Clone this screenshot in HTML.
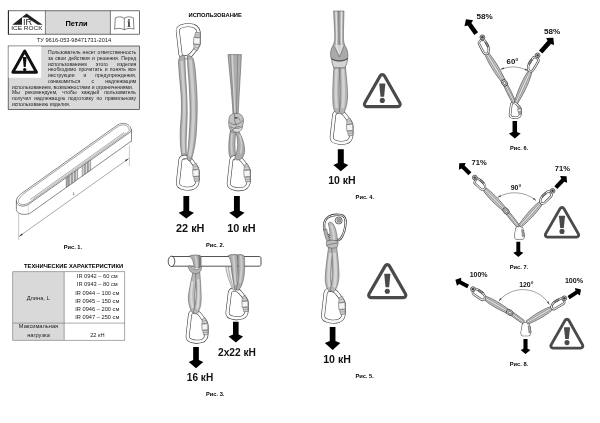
<!DOCTYPE html>
<html lang="ru"><head><meta charset="utf-8"><title>Петли</title>
<style>
html,body{margin:0;padding:0;background:#fff}
body{width:600px;height:423px;position:relative;overflow:hidden;font-family:"Liberation Sans", sans-serif}
svg{position:absolute;left:0;top:0;will-change:transform}
.j,.l{will-change:transform}
svg text{font-family:"Liberation Sans", sans-serif}
.j,.l{position:absolute;font-size:5.05px;line-height:6px;color:#222;white-space:nowrap}
.j{text-align:justify;text-align-last:justify}
</style></head><body>
<svg width="600" height="423" viewBox="0 0 600 423">
<rect x="45.5" y="10.8" width="65" height="23.4" fill="#d9d9d9"/>
<rect x="8.3" y="10.8" width="131.2" height="23.4" fill="none" stroke="#333" stroke-width="0.7"/>
<path d="M45.4 10.8V34.2M110.4 10.8V34.2" stroke="#333" stroke-width="0.6" fill="none"/>
<path d="M8.4 10.5V34.5" stroke="#222" stroke-width="1"/>
<text x="76.6" y="26.4" font-size="7.4" font-weight="bold" text-anchor="middle" fill="#000" >Петли</text>
<path d="M12.3 24.8 L26.6 13.6 L42.6 24.8 L37.8 24.8 L29.4 19.2 L27.6 17.6 L22 17.6 L22 24.8 Z" fill="#222"/>
<text x="22.9" y="24.9" font-size="9.6" font-weight="normal" text-anchor="start" fill="#222" textLength="9.2" lengthAdjust="spacingAndGlyphs">IR</text>
<text x="11.2" y="30" font-size="5.8" font-weight="normal" text-anchor="start" fill="#222" textLength="31.4" lengthAdjust="spacingAndGlyphs">ICE ROCK</text>
<g fill="none" stroke="#333" stroke-width="0.6"><path d="M124.3 18.2 C121.5 16.3 118 16.6 115.3 17.8 L114.6 29.2 C117.6 28 121 28 124.3 29.8 C127.6 28 131 28 134 29.2 L133.3 17.8 C130.6 16.6 127.1 16.3 124.3 18.2 Z"/><path d="M124.3 18.2V29.8"/></g>
<rect x="128.2" y="21.6" width="1.5" height="5" fill="#222"/><rect x="128.2" y="19.2" width="1.5" height="1.5" fill="#222"/>
<path d="M127.4 21.6h2.3M127.4 26.6h3.1" stroke="#222" stroke-width="0.5"/>
<text x="74" y="42.0" font-size="5.7" font-weight="normal" text-anchor="middle" fill="#222" >ТУ 9616-053-98471731-2014</text>
<rect x="8.2" y="46" width="131.2" height="63.4" fill="#d9d9d9" stroke="#333" stroke-width="0.7"/>
<rect x="8.6" y="46.4" width="32.6" height="31.4" fill="#fff"/>
<path d="M24.7 51 L36.5 72.3 L12.8 72.3 Z" fill="none" stroke="#111" stroke-width="2.9" stroke-linejoin="round"/>
<path d="M22.8 57 h3.8 l-0.9 10 h-2 Z" fill="#111"/><circle cx="24.7" cy="69.6" r="1.7" fill="#111"/>
<path d="M21.6 193.4 L116.5 125.7 C120 123.1 124.5 122.4 127.8 124.6 C131.5 127 132.2 131.5 129.8 132.4 L28.2 204.6 C24 207 18.5 206.5 16.8 203 C15.4 199.5 18 196 21.6 193.4 Z" fill="#fff" stroke="#484848" stroke-width="0.65"/>
<path d="M23.6 193.7 L117 127.1 C120.5 124.8 124 124.2 126.6 125.8 C129.3 127.8 130 131 128.4 132.0 L28.6 203.0 C24.5 205.4 20 205 18.6 202.4 C17.6 199.8 20 197.4 23.6 193.7 Z" fill="none" stroke="#484848" stroke-width="0.5"/>
<path d="M30 199.6 L124 132.6" stroke="#484848" stroke-width="0.45" fill="none"/>
<path d="M33 198.7 L126 132.4" stroke="#888" stroke-width="0.4" fill="none"/>
<path d="M16.4 200.5 V209.5 C17 213.5 22 215.6 29.6 213.6 L130.6 141.6 C131.4 143 131.5 141 131.5 140 V129.5" fill="none" stroke="#484848" stroke-width="0.65"/>
<path d="M28.4 204.9 V214.5" stroke="#999" stroke-width="0.35"/>
<path d="M67 176.9 L92 159.1 V169.1 L67 186.9 Z" fill="none" stroke="none"/>
<path d="M66.2 177.5 L68.4 175.9 V185.9 L66.2 187.5 Z" fill="#a8a8a8" stroke="#555" stroke-width="0.5"/>
<path d="M69.4 175.2 L71.60000000000001 173.7 V183.7 L69.4 185.2 Z" fill="#d6d6d6" stroke="#555" stroke-width="0.5"/>
<path d="M72.4 173.1 L74.60000000000001 171.5 V181.5 L72.4 183.1 Z" fill="#d6d6d6" stroke="#555" stroke-width="0.5"/>
<path d="M75.4 170.9 L77.60000000000001 169.4 V179.4 L75.4 180.9 Z" fill="#d6d6d6" stroke="#555" stroke-width="0.5"/>
<path d="M82.2 166.1 L84.4 164.5 V174.5 L82.2 176.1 Z" fill="#d6d6d6" stroke="#555" stroke-width="0.5"/>
<path d="M85.3 163.9 L87.5 162.3 V172.3 L85.3 173.9 Z" fill="#d6d6d6" stroke="#555" stroke-width="0.5"/>
<path d="M88.4 161.7 L90.60000000000001 160.1 V170.1 L88.4 171.7 Z" fill="#d6d6d6" stroke="#555" stroke-width="0.5"/>
<path d="M18.6 213 V240 M129.4 145.6 V166" stroke="#888" stroke-width="0.45" fill="none"/>
<path d="M19.1 236.4 L128.6 158.6" stroke="#555" stroke-width="0.5" fill="none"/>
<path d="M19.1 236.4 l3.6 -1.5 l-1 -1.5 Z M128.6 158.6 l-3.6 1.5 l1 1.5 Z" fill="#333"/>
<text x="73" y="195.4" font-size="4.4" font-weight="normal" text-anchor="start" fill="#444" font-style="italic">L</text>
<text x="72.9" y="248.6" font-size="5.7" font-weight="bold" text-anchor="middle" fill="#000" >Рис. 1.</text>
<text x="73.6" y="267.9" font-size="5.8" font-weight="bold" text-anchor="middle" fill="#000" >ТЕХНИЧЕСКИЕ ХАРАКТЕРИСТИКИ</text>
<rect x="12.8" y="271.8" width="51.4" height="68.4" fill="#d9d9d9"/>
<rect x="12.8" y="271.8" width="112" height="68.4" fill="none" stroke="#555" stroke-width="0.5"/>
<path d="M64.2 271.8V340.2M12.8 323.1H124.8" stroke="#555" stroke-width="0.5"/>
<text x="97.3" y="277.9" font-size="5.7" font-weight="normal" text-anchor="middle" fill="#222" >IR 0942 – 60 см</text>
<text x="97.3" y="286.29999999999995" font-size="5.7" font-weight="normal" text-anchor="middle" fill="#222" >IR 0943 – 80 см</text>
<text x="97.3" y="294.5" font-size="5.7" font-weight="normal" text-anchor="middle" fill="#222" >IR 0944 – 100 см</text>
<text x="97.3" y="302.7" font-size="5.7" font-weight="normal" text-anchor="middle" fill="#222" >IR 0945 – 150 см</text>
<text x="97.3" y="311.0" font-size="5.7" font-weight="normal" text-anchor="middle" fill="#222" >IR 0946 – 200 см</text>
<text x="97.3" y="319.4" font-size="5.7" font-weight="normal" text-anchor="middle" fill="#222" >IR 0947 – 250 см</text>
<text x="38.2" y="299.6" font-size="5.7" font-weight="normal" text-anchor="middle" fill="#222" >Длина, L</text>
<text x="38.5" y="328.1" font-size="5.7" font-weight="normal" text-anchor="middle" fill="#222" >Максимальная</text>
<text x="38.5" y="336.9" font-size="5.7" font-weight="normal" text-anchor="middle" fill="#222" >нагрузка</text>
<text x="97.4" y="336.9" font-size="5.7" font-weight="normal" text-anchor="middle" fill="#222" >22 кН</text>
<text x="215.2" y="16.6" font-size="5.8" font-weight="bold" text-anchor="middle" fill="#000" >ИСПОЛЬЗОВАНИЕ</text>
<path d="M180.45 54.16 C181.08 56.78 183.21 57.39 185.54 57.29 C188.30 57.09 190.42 55.77 191.91 53.76 L197.00 47.20 C198.28 45.69 198.81 44.68 198.81 42.66 L198.81 34.59 C198.81 30.15 197.00 27.13 193.61 25.92 C191.06 25.11 187.88 25.01 185.12 25.41 C181.08 26.02 177.37 26.93 177.79 31.16 Z" fill="none" stroke="#3e3e3e" stroke-width="3.9" stroke-linejoin="round"/>
<path d="M180.45 54.16 C181.08 56.78 183.21 57.39 185.54 57.29 C188.30 57.09 190.42 55.77 191.91 53.76 L197.00 47.20 C198.28 45.69 198.81 44.68 198.81 42.66 L198.81 34.59 C198.81 30.15 197.00 27.13 193.61 25.92 C191.06 25.11 187.88 25.01 185.12 25.41 C181.08 26.02 177.37 26.93 177.79 31.16 Z" fill="none" stroke="#fbfbfb" stroke-width="2.75" stroke-linejoin="round"/>
<path d="M194.03 49.12 L197.22 50.73 L199.76 44.88 L193.71 44.07 Z" fill="#d2d2d2" stroke="#505050" stroke-width="0.5" stroke-linejoin="round"/>
<path d="M193.50 43.87 L199.98 44.48 L200.29 37.82 L193.82 37.42 Z" fill="#f4f4f4" stroke="#505050" stroke-width="0.55" stroke-linejoin="round"/>
<path d="M194.56 37.11 L200.29 37.52 L200.08 32.78 L195.52 32.37 Z" fill="#d2d2d2" stroke="#505050" stroke-width="0.5" stroke-linejoin="round"/>
<path d="M194.67 47.10 L198.70 48.11 M195.20 34.79 L200.19 35.20" stroke="#666" stroke-width="0.4" fill="none"/>
<path d="M182 55.2 C179.6 56.5 178.3 59 178.5 63 C178.9 72 180.3 84 181.2 96 C181.8 106 181.4 116 180.6 124 C180 132 180.1 140 180.6 146 C181 152 181.8 157 183.6 159.6 L186.6 158.5 C186.2 152 186 146 186.2 140 C186.5 132 187 124 187.2 114 C187.3 104 186.8 94 186.1 84 C185.5 75 185 66 185 58 C184.6 55.6 183.5 54.8 182 55.2 Z" fill="#acacac" stroke="#505050" stroke-width="0.55" stroke-linejoin="round"/>
<path d="M181.9 62 C182.4 74 183.6 86 184.3 98 C184.7 108 184.4 118 183.7 126 C183.2 134 183.2 144 183.8 152" fill="none" stroke="#cecece" stroke-width="2.6" stroke-linecap="round"/>
<path d="M180.40 159.90 C181.00 157.30 183.00 156.70 185.20 156.80 C187.80 157.00 189.80 158.30 191.20 160.30 L196.00 166.80 C197.20 168.30 197.70 169.30 197.70 171.30 L197.70 179.30 C197.70 183.70 196.00 186.70 192.80 187.90 C190.40 188.70 187.40 188.80 184.80 188.40 C181.00 187.80 177.50 186.90 177.90 182.70 Z" fill="none" stroke="#3e3e3e" stroke-width="3.9" stroke-linejoin="round"/>
<path d="M180.40 159.90 C181.00 157.30 183.00 156.70 185.20 156.80 C187.80 157.00 189.80 158.30 191.20 160.30 L196.00 166.80 C197.20 168.30 197.70 169.30 197.70 171.30 L197.70 179.30 C197.70 183.70 196.00 186.70 192.80 187.90 C190.40 188.70 187.40 188.80 184.80 188.40 C181.00 187.80 177.50 186.90 177.90 182.70 Z" fill="none" stroke="#fbfbfb" stroke-width="2.75" stroke-linejoin="round"/>
<path d="M193.20 164.90 L196.20 163.30 L198.60 169.10 L192.90 169.90 Z" fill="#d2d2d2" stroke="#505050" stroke-width="0.5" stroke-linejoin="round"/>
<path d="M192.70 170.10 L198.80 169.50 L199.10 176.10 L193.00 176.50 Z" fill="#f4f4f4" stroke="#505050" stroke-width="0.55" stroke-linejoin="round"/>
<path d="M193.70 176.80 L199.10 176.40 L198.90 181.10 L194.60 181.50 Z" fill="#d2d2d2" stroke="#505050" stroke-width="0.5" stroke-linejoin="round"/>
<path d="M193.80 166.90 L197.60 165.90 M194.30 179.10 L199.00 178.70" stroke="#666" stroke-width="0.4" fill="none"/>
<path d="M187.4 56 C187.3 62 188 70 188.7 78 C189.4 88 190 100 190.1 110 C190.1 120 189.7 130 188.8 140 C188.4 148 187.7 154 186.8 158 C187.4 160.4 189.4 161.4 191 160.2 C193.4 154 195.4 144 196.2 134 C196.9 124 197.4 112 197.2 102 C196.9 90 196 78 195 68 C194.5 64 193.8 61 193.2 59 C192.2 56.6 189.6 55 187.4 56 Z" fill="#acacac" stroke="#505050" stroke-width="0.55" stroke-linejoin="round"/>
<path d="M190.6 61 C191.4 72 192.6 86 193.2 98 C193.7 110 193.4 124 192.4 136 C191.8 144 190.8 150 189.8 155" fill="none" stroke="#cecece" stroke-width="3.0" stroke-linecap="round"/>
<path d="M183.40 196 H189.20 V210.66 L193.95 212.7 L186.3 218.5 L178.65 212.7 L183.40 210.66 Z" fill="#000"/>
<text x="176.0" y="231.7" font-size="10.9" font-weight="bold" text-anchor="start" fill="#111" >22 кН</text>
<path d="M228 54.6 H241.4 C240.6 72 239 95 238.2 114 L233 114 C232 95 229.6 72 228 54.6 Z" fill="#aeaeae" stroke="#505050" stroke-width="0.55" stroke-linejoin="round"/>
<path d="M232.2 55.5 C232.8 75 234.2 95 234.8 113" fill="none" stroke="#d2d2d2" stroke-width="1.6" stroke-linecap="round"/>
<path d="M237.6 55.5 C237.4 75 236.8 95 236.4 113" fill="none" stroke="#707070" stroke-width="0.6" stroke-linecap="round"/>
<path d="M230.4 55.5 C231.4 75 233 95 233.8 113" fill="none" stroke="#707070" stroke-width="0.5" stroke-linecap="round"/>
<path d="M231 128 C229 136 228.4 146 229 153 C229.4 157.5 231.6 160 234.4 160 L236 157 C234.6 150 234.6 140 236 130 Z" fill="#acacac" stroke="#505050" stroke-width="0.55" stroke-linejoin="round"/>
<path d="M231.27 160.24 C231.88 157.62 233.92 157.01 236.15 157.11 C238.80 157.31 240.84 158.63 242.26 160.64 L247.14 167.20 C248.36 168.71 248.87 169.72 248.87 171.74 L248.87 179.81 C248.87 184.25 247.14 187.27 243.89 188.48 C241.45 189.29 238.39 189.39 235.75 188.99 C231.88 188.38 228.32 187.47 228.73 183.24 Z" fill="none" stroke="#3e3e3e" stroke-width="3.9" stroke-linejoin="round"/>
<path d="M231.27 160.24 C231.88 157.62 233.92 157.01 236.15 157.11 C238.80 157.31 240.84 158.63 242.26 160.64 L247.14 167.20 C248.36 168.71 248.87 169.72 248.87 171.74 L248.87 179.81 C248.87 184.25 247.14 187.27 243.89 188.48 C241.45 189.29 238.39 189.39 235.75 188.99 C231.88 188.38 228.32 187.47 228.73 183.24 Z" fill="none" stroke="#fbfbfb" stroke-width="2.75" stroke-linejoin="round"/>
<path d="M244.29 165.28 L247.35 163.67 L249.79 169.52 L243.99 170.33 Z" fill="#d2d2d2" stroke="#505050" stroke-width="0.5" stroke-linejoin="round"/>
<path d="M243.79 170.53 L249.99 169.92 L250.30 176.58 L244.09 176.98 Z" fill="#f4f4f4" stroke="#505050" stroke-width="0.55" stroke-linejoin="round"/>
<path d="M244.80 177.29 L250.30 176.88 L250.09 181.62 L245.72 182.03 Z" fill="#d2d2d2" stroke="#505050" stroke-width="0.5" stroke-linejoin="round"/>
<path d="M244.91 167.30 L248.77 166.29 M245.41 179.61 L250.20 179.20" stroke="#666" stroke-width="0.4" fill="none"/>
<path d="M236.5 128 C241 134 244.4 142 244.6 150 C244.7 155.5 242 159.8 237.6 160 C235.6 160 234.6 158.6 235 156.6 C237.4 152 238 146 237.4 140 C237 135 235.6 131 234 128.6 Z" fill="#acacac" stroke="#505050" stroke-width="0.55" stroke-linejoin="round"/>
<path d="M232 134 C231.2 140 231.2 148 232 154" fill="none" stroke="#cdcdcd" stroke-width="1.6" stroke-linecap="round"/>
<path d="M239.6 135 C241.6 140 242 147 240.6 153" fill="none" stroke="#cdcdcd" stroke-width="1.6" stroke-linecap="round"/>
<path d="M229.8 116 C232 112.8 238.6 112.4 241.6 115.2 C244 118 244 122.6 242.2 126 C240.2 130 235.4 133.4 231.8 131.6 C228.4 129.6 227.8 120 229.8 116 Z" fill="#c2c2c2" stroke="#505050" stroke-width="0.55" stroke-linejoin="round"/>
<path d="M230.6 126.4 C232 130 235 132.8 238.2 132.2 C240.8 131.6 242.4 129 242.8 126.2 C239.6 129 234 129.6 230.6 126.4 Z" fill="#dcdcdc" stroke="#505050" stroke-width="0.5"/>
<path d="M234.8 114 C234.2 118 234.6 122 236.4 125.6 M229.2 122 C233 126 238.6 125 243.4 120 M235.4 117.6 C237.4 117 239.8 118.4 240.2 120.8 M231.6 131 C233.6 128 236.6 126.6 239.6 126.4" fill="none" stroke="#505050" stroke-width="0.6"/>
<path d="M234.6 117.4 C235.6 116.6 237 116.8 237.6 117.8 C236.8 119.2 235.4 119.4 234.6 117.4 Z" fill="#555"/>
<path d="M233.95 196 H239.85 V210.68 L244.55 212.7 L236.9 218.5 L229.25 212.7 L233.95 210.68 Z" fill="#000"/>
<text x="227.2" y="231.7" font-size="10.9" font-weight="bold" text-anchor="start" fill="#111" >10 кН</text>
<text x="215.1" y="246.9" font-size="5.7" font-weight="bold" text-anchor="middle" fill="#000" >Рис. 2.</text>
<path d="M171.5 256.5 H259.2 C260.4 256.5 261 257.2 261 258.2 V264.4 C261 265.4 260.4 266.2 259.2 266.2 H171.5 Z" fill="#fff" stroke="#2a2a2a" stroke-width="0.8"/>
<ellipse cx="171.5" cy="261.35" rx="3.3" ry="5.2" fill="#fff" stroke="#2a2a2a" stroke-width="0.8"/>
<path d="M190.02 314.55 C190.60 312.09 192.51 311.52 194.61 311.62 C197.10 311.81 199.01 313.04 200.35 314.93 L204.94 321.07 C206.09 322.49 206.57 323.43 206.57 325.32 L206.57 332.89 C206.57 337.04 204.94 339.88 201.88 341.01 C199.59 341.77 196.72 341.87 194.23 341.49 C190.60 340.92 187.25 340.07 187.63 336.10 Z" fill="none" stroke="#3e3e3e" stroke-width="3.9" stroke-linejoin="round"/>
<path d="M190.02 314.55 C190.60 312.09 192.51 311.52 194.61 311.62 C197.10 311.81 199.01 313.04 200.35 314.93 L204.94 321.07 C206.09 322.49 206.57 323.43 206.57 325.32 L206.57 332.89 C206.57 337.04 204.94 339.88 201.88 341.01 C199.59 341.77 196.72 341.87 194.23 341.49 C190.60 340.92 187.25 340.07 187.63 336.10 Z" fill="none" stroke="#fbfbfb" stroke-width="2.75" stroke-linejoin="round"/>
<path d="M202.26 319.27 L205.13 317.76 L207.43 323.24 L201.98 324.00 Z" fill="#d2d2d2" stroke="#505050" stroke-width="0.5" stroke-linejoin="round"/>
<path d="M201.79 324.19 L207.62 323.62 L207.90 329.86 L202.07 330.24 Z" fill="#f4f4f4" stroke="#505050" stroke-width="0.55" stroke-linejoin="round"/>
<path d="M202.74 330.52 L207.90 330.14 L207.71 334.59 L203.60 334.97 Z" fill="#d2d2d2" stroke="#505050" stroke-width="0.5" stroke-linejoin="round"/>
<path d="M202.84 321.16 L206.47 320.22 M203.31 332.70 L207.81 332.32" stroke="#666" stroke-width="0.4" fill="none"/>
<path d="M198.4 255.4 C199.6 255 200.6 255.6 201 256.6 C201.2 260 201.2 264 201 267 L198.8 267 Z" fill="#8a8a8a" stroke="#505050" stroke-width="0.5" stroke-linejoin="round"/>
<path d="M189.4 256 C191 255 196.8 254.6 198.8 255.4 C199.2 259 199.4 263 199.4 267.4 L194 268 C194 263 192.8 258.6 189.4 256 Z" fill="#aeaeae" stroke="#505050" stroke-width="0.55" stroke-linejoin="round"/>
<path d="M195.4 256.4 C196.6 260 196.8 264 196.8 267" fill="none" stroke="#cdcdcd" stroke-width="1.8" stroke-linecap="round"/>
<path d="M193 272 C191.4 279 189.4 288 188.4 296 C188 303 190 309.6 193 313.4 L196 311 C194.6 305 194.2 298 195 291 C195.6 285 196.8 279 197.6 273 Z" fill="#b8b8b8" stroke="#505050" stroke-width="0.55" stroke-linejoin="round"/>
<path d="M195.6 272.6 C196 280 196.4 289 196 297 C195.6 303 194.6 308 193.4 311.6 C194.4 314 196.6 314.4 198 312.6 C200.4 308.6 201.4 303 201.2 297 C201 289 200.4 280 199.8 272.4 Z" fill="#b8b8b8" stroke="#505050" stroke-width="0.55" stroke-linejoin="round"/>
<path d="M192.4 282 C191 290 190.8 300 192.6 307" fill="none" stroke="#d8d8d8" stroke-width="2.2" stroke-linecap="round"/>
<path d="M198.2 280 C198.8 289 198.8 300 197.4 308" fill="none" stroke="#d8d8d8" stroke-width="2.2" stroke-linecap="round"/>
<path d="M188 266.2 C189 265.6 190.6 265.8 191.4 266.6 C192.4 268.6 194.4 269.8 196.6 269.6 C198.6 269.4 199.8 268.2 200.2 266.6 C200.8 266 201.6 266.4 201.6 267.4 C201.4 270.6 199.4 273.4 196.4 273.8 C192.6 274.2 189 271 188 266.2 Z" fill="#b4b4b4" stroke="#505050" stroke-width="0.55" stroke-linejoin="round"/>
<path d="M193.15 346.9 H198.85 V360.09 L203.30 362 L196 368.3 L188.70 362 L193.15 360.09 Z" fill="#000"/>
<text x="186.8" y="381.0" font-size="10.1" font-weight="bold" text-anchor="start" fill="#111" >16 кН</text>
<path d="M229.89 292.34 C230.48 290.00 232.43 289.46 234.57 289.55 C237.10 289.73 239.05 290.90 240.41 292.70 L245.08 298.54 C246.25 299.89 246.74 300.79 246.74 302.59 L246.74 309.78 C246.74 313.74 245.08 316.43 241.97 317.51 C239.63 318.23 236.71 318.32 234.18 317.96 C230.48 317.42 227.07 316.61 227.46 312.84 Z" fill="none" stroke="#3e3e3e" stroke-width="3.9" stroke-linejoin="round"/>
<path d="M229.89 292.34 C230.48 290.00 232.43 289.46 234.57 289.55 C237.10 289.73 239.05 290.90 240.41 292.70 L245.08 298.54 C246.25 299.89 246.74 300.79 246.74 302.59 L246.74 309.78 C246.74 313.74 245.08 316.43 241.97 317.51 C239.63 318.23 236.71 318.32 234.18 317.96 C230.48 317.42 227.07 316.61 227.46 312.84 Z" fill="none" stroke="#fbfbfb" stroke-width="2.75" stroke-linejoin="round"/>
<path d="M242.36 296.83 L245.28 295.39 L247.62 300.61 L242.07 301.33 Z" fill="#d2d2d2" stroke="#505050" stroke-width="0.5" stroke-linejoin="round"/>
<path d="M241.87 301.51 L247.81 300.97 L248.10 306.90 L242.16 307.26 Z" fill="#f4f4f4" stroke="#505050" stroke-width="0.55" stroke-linejoin="round"/>
<path d="M242.84 307.53 L248.10 307.17 L247.91 311.40 L243.72 311.76 Z" fill="#d2d2d2" stroke="#505050" stroke-width="0.5" stroke-linejoin="round"/>
<path d="M242.94 298.63 L246.64 297.73 M243.43 309.60 L248.01 309.24" stroke="#666" stroke-width="0.4" fill="none"/>
<path d="M225.8 266.6 L231.2 266.6 C231.8 274 233.6 282 236.2 289 L233.4 290.4 C229.6 283 226.6 274 225.8 266.6 Z" fill="#ededed" stroke="#505050" stroke-width="0.5" stroke-linejoin="round"/>
<path d="M228.4 266.8 C229 274 231 283 234.6 289.6" fill="none" stroke="#505050" stroke-width="0.45"/>
<path d="M228.2 255.6 C230 254.4 234.6 254.2 237.4 254.8 C237.8 262 237.6 270 237.2 278 C237 283 237.4 287 238 289.6 L235 290.4 C233.6 284 232.4 276 231.8 268 C231.4 262 229.8 258 228.2 255.6 Z" fill="#aeaeae" stroke="#505050" stroke-width="0.55" stroke-linejoin="round"/>
<path d="M237.6 254.8 C240 254.2 243 254.6 244.2 256 C244.8 262 244.8 270 244 276 C243.2 282 241.4 286.6 239 289.8 C238 290.6 236.6 290 236.4 288.6 C237.8 284 238.6 278 238.6 272 C238.6 266 238.2 260 237.6 254.8 Z" fill="#aeaeae" stroke="#505050" stroke-width="0.55" stroke-linejoin="round"/>
<path d="M233.4 256.4 C234.4 264 234.4 274 235.6 284" fill="none" stroke="#cdcdcd" stroke-width="2.0" stroke-linecap="round"/>
<path d="M241 256.4 C241.8 263 241.8 272 240 282" fill="none" stroke="#cdcdcd" stroke-width="2.0" stroke-linecap="round"/>
<path d="M233.00 321.7 H238.60 V334.49 L243.05 336.4 L235.8 342.6 L228.55 336.4 L233.00 334.49 Z" fill="#000"/>
<text x="218.0" y="355.9" font-size="10.2" font-weight="bold" text-anchor="start" fill="#111" >2x22 кН</text>
<text x="215.2" y="395.5" font-size="5.7" font-weight="bold" text-anchor="middle" fill="#000" >Рис. 3.</text>
<path d="M334.20 114.71 C334.80 112.16 336.80 111.57 339.00 111.67 C341.60 111.87 343.60 113.14 345.00 115.10 L349.80 121.47 C351.00 122.94 351.50 123.92 351.50 125.88 L351.50 133.72 C351.50 138.03 349.80 140.97 346.60 142.14 C344.20 142.93 341.20 143.02 338.60 142.63 C334.80 142.04 331.30 141.16 331.70 137.05 Z" fill="none" stroke="#3e3e3e" stroke-width="3.9" stroke-linejoin="round"/>
<path d="M334.20 114.71 C334.80 112.16 336.80 111.57 339.00 111.67 C341.60 111.87 343.60 113.14 345.00 115.10 L349.80 121.47 C351.00 122.94 351.50 123.92 351.50 125.88 L351.50 133.72 C351.50 138.03 349.80 140.97 346.60 142.14 C344.20 142.93 341.20 143.02 338.60 142.63 C334.80 142.04 331.30 141.16 331.70 137.05 Z" fill="none" stroke="#fbfbfb" stroke-width="2.75" stroke-linejoin="round"/>
<path d="M347.00 119.61 L350.00 118.04 L352.40 123.72 L346.70 124.51 Z" fill="#d2d2d2" stroke="#505050" stroke-width="0.5" stroke-linejoin="round"/>
<path d="M346.50 124.70 L352.60 124.11 L352.90 130.58 L346.80 130.97 Z" fill="#f4f4f4" stroke="#505050" stroke-width="0.55" stroke-linejoin="round"/>
<path d="M347.50 131.27 L352.90 130.87 L352.70 135.48 L348.40 135.87 Z" fill="#d2d2d2" stroke="#505050" stroke-width="0.5" stroke-linejoin="round"/>
<path d="M347.60 121.57 L351.40 120.59 M348.10 133.52 L352.80 133.13" stroke="#666" stroke-width="0.4" fill="none"/>
<path d="M333.6 11 H344 C343.8 20 343.4 30 343.4 38 C343.6 41 344 43 344.6 45 L333.2 45 C334 43 334.6 41 334.8 38 C334.6 30 334 20 333.6 11 Z" fill="#acacac" stroke="#505050" stroke-width="0.55" stroke-linejoin="round"/>
<path d="M336 12 C336.6 24 336.8 36 336.6 44.6" fill="none" stroke="#e2e2e2" stroke-width="1.5" stroke-linecap="round"/>
<path d="M341.6 12 C341.4 24 341.2 36 341.6 44.6" fill="none" stroke="#e2e2e2" stroke-width="1.5" stroke-linecap="round"/>
<path d="M338.8 11.4 C338.8 24 339 36 339.2 45" fill="none" stroke="#5a5a5a" stroke-width="0.6" stroke-linecap="round"/>
<path d="M334 65 C333 80 332.4 94 333 104 C333.4 109 334.8 112.4 337 113.6 L340.2 111 C339.4 104 339 94 339.2 84 C339.4 76 339.8 70 340 65 Z" fill="#b4b4b4" stroke="#505050" stroke-width="0.55" stroke-linejoin="round"/>
<path d="M340 65 C339.8 74 340 86 340.2 96 C340.3 102 340 108 339.4 111.6 C340.4 114.4 342.8 114.6 344 112.6 C346.4 108 347.8 101 347.6 94 C347.4 84 346 74 345.2 65 Z" fill="#b4b4b4" stroke="#505050" stroke-width="0.55" stroke-linejoin="round"/>
<path d="M336.6 70 C335.8 82 335.6 96 336.6 107" fill="none" stroke="#d2d2d2" stroke-width="2.6" stroke-linecap="round"/>
<path d="M342.8 70 C343.6 82 344.2 96 342.8 107" fill="none" stroke="#d2d2d2" stroke-width="2.8" stroke-linecap="round"/>
<path d="M333.2 44.6 L344.6 44.8 L339.5 57 Z" fill="#cfcfcf" stroke="none"/>
<path d="M336.6 45 L339 54" fill="none" stroke="#e6e6e6" stroke-width="1.2" stroke-linecap="round"/>
<path d="M342 45 L340 54" fill="none" stroke="#e6e6e6" stroke-width="1.0" stroke-linecap="round"/>
<path d="M333.4 44.8 C331.2 48 330.2 52 330.6 56 C330.8 57.6 331.2 58.6 331.8 59.2 C336 62 343.4 62 347.4 59 C347.9 57.6 348 55.6 347.8 53.6 C347.4 50 346.2 47 344.4 45 L339.5 56.8 Z" fill="#aaaaaa" stroke="#505050" stroke-width="0.55" stroke-linejoin="round"/>
<path d="M331.7 59 C335.4 62 343.6 62 347.5 58.8 C347.5 62 346.2 65.4 344.8 67.8 L334 67.8 C332.6 65.2 331.7 62 331.7 59 Z" fill="#d4d4d4" stroke="#505050" stroke-width="0.6" stroke-linejoin="round"/>
<path d="M331.2 58.4 C335.4 61.6 343.6 61.6 348 58.2" fill="none" stroke="#444" stroke-width="0.8"/>
<path d="M337.80 149.2 H343.80 V163.09 L348.25 165 L340.8 171.3 L333.35 165 L337.80 163.09 Z" fill="#000"/>
<text x="328.2" y="184.3" font-size="10.5" font-weight="bold" text-anchor="start" fill="#111" >10 кН</text>
<text x="364.8" y="199.4" font-size="5.7" font-weight="bold" text-anchor="middle" fill="#000" >Рис. 4.</text>
<path d="M380.21 75.86 A2.4 2.4 0 0 1 384.39 75.86 L399.88 103.06 A2.4 2.4 0 0 1 397.80 106.65 L366.80 106.65 A2.4 2.4 0 0 1 364.72 103.06 Z" fill="none" stroke="#4a4a4a" stroke-width="3.1" stroke-linejoin="round"/>
<path d="M379.8 83.4 H384.8 Q385.40000000000003 83.4 385.35 84.0 L384.1 96.7 H380.5 L379.25 84.0 Q379.2 83.4 379.8 83.4 Z" fill="#4a4a4a"/>
<circle cx="382.3" cy="100.4" r="2.55" fill="#4a4a4a"/>
<path d="M325.61 292.81 C326.24 290.21 328.35 289.60 330.66 289.70 C333.40 289.90 335.51 291.21 336.98 293.21 L342.03 299.73 C343.29 301.24 343.82 302.24 343.82 304.25 L343.82 312.27 C343.82 316.68 342.03 319.69 338.66 320.89 C336.14 321.70 332.98 321.80 330.24 321.40 C326.24 320.79 322.56 319.89 322.98 315.68 Z" fill="none" stroke="#3e3e3e" stroke-width="3.9" stroke-linejoin="round"/>
<path d="M325.61 292.81 C326.24 290.21 328.35 289.60 330.66 289.70 C333.40 289.90 335.51 291.21 336.98 293.21 L342.03 299.73 C343.29 301.24 343.82 302.24 343.82 304.25 L343.82 312.27 C343.82 316.68 342.03 319.69 338.66 320.89 C336.14 321.70 332.98 321.80 330.24 321.40 C326.24 320.79 322.56 319.89 322.98 315.68 Z" fill="none" stroke="#fbfbfb" stroke-width="2.75" stroke-linejoin="round"/>
<path d="M339.08 297.83 L342.24 296.22 L344.77 302.04 L338.77 302.84 Z" fill="#d2d2d2" stroke="#505050" stroke-width="0.5" stroke-linejoin="round"/>
<path d="M338.56 303.04 L344.98 302.44 L345.29 309.06 L338.87 309.46 Z" fill="#f4f4f4" stroke="#505050" stroke-width="0.55" stroke-linejoin="round"/>
<path d="M339.61 309.76 L345.29 309.36 L345.08 314.07 L340.56 314.48 Z" fill="#d2d2d2" stroke="#505050" stroke-width="0.5" stroke-linejoin="round"/>
<path d="M339.72 299.83 L343.72 298.83 M340.24 312.07 L345.19 311.67" stroke="#666" stroke-width="0.4" fill="none"/>
<path d="M324.6 230.4 C323.4 225 324.4 220 327.6 217.6 C331 215 337 214.4 341.4 215.2 C344.6 216 345.8 219 345.6 223 C345.2 229 343.4 235 340.6 238.8 C339.4 240.2 337.6 240.4 336.6 239.4 C333 238.4 327 236 324.6 230.4 Z" fill="#fff" stroke="#3a3a3a" stroke-width="2.3" stroke-linejoin="round"/>
<path d="M324.6 230.4 C323.4 225 324.4 220 327.6 217.6 C331 215 337 214.4 341.4 215.2 C344.6 216 345.8 219 345.6 223 C345.2 229 343.4 235 340.6 238.8 C339.4 240.2 337.6 240.4 336.6 239.4 C333 238.4 327 236 324.6 230.4 Z" fill="none" stroke="#f4f4f4" stroke-width="1.0" stroke-linejoin="round"/>
<circle cx="338.7" cy="220.5" r="3.5" fill="#e6e6e6" stroke="#333" stroke-width="0.7"/>
<circle cx="338.9" cy="220.4" r="1.9" fill="#c2c2c2" stroke="#444" stroke-width="0.5"/>
<path d="M337.2 218.4 L340.4 222.6 M340.4 218.6 L337.4 222.4" stroke="#555" stroke-width="0.4"/>
<path d="M328.2 223.2 C329.4 221.6 331.6 222 332.8 223.6 C335.4 227 337 233 337.4 240.4 L329.6 241 C330.4 235 329.8 228 328.2 223.2 Z" fill="#b8b8b8" stroke="#505050" stroke-width="0.55" stroke-linejoin="round"/>
<path d="M331.4 225.6 C333.2 229.6 334 235 334 240" fill="none" stroke="#d6d6d6" stroke-width="1.8" stroke-linecap="round"/>
<path d="M328.6 247 C327.4 256 325.6 268 325.2 278 C325 284 326.6 288.6 329.4 291.4 L332.4 289 C331 284 330.6 278 331 272 C331.4 262 332.6 254 333.6 247 Z" fill="#b6b6b6" stroke="#505050" stroke-width="0.55" stroke-linejoin="round"/>
<path d="M331.6 247 C332 256 332.6 266 332.4 274 C332.2 280 331.4 285 330.4 289.4 C331.4 292 333.6 292.4 335 290.6 C337.6 286.4 339 281 339 275 C339 266 337.6 255 336.6 247 Z" fill="#b6b6b6" stroke="#505050" stroke-width="0.55" stroke-linejoin="round"/>
<path d="M330.4 254 C328.8 264 328 277 329.2 286" fill="none" stroke="#d6d6d6" stroke-width="2.6" stroke-linecap="round"/>
<path d="M334.6 254 C335.6 264 336.2 276 334.6 286" fill="none" stroke="#d6d6d6" stroke-width="2.8" stroke-linecap="round"/>
<path d="M323.8 229.4 C324.2 234 325.4 238 327.2 241.6 L330 240.6 C328.4 237 327.2 233 326.8 229.2 Z" fill="#b0b0b0" stroke="#505050" stroke-width="0.5" stroke-linejoin="round"/>
<path d="M326.6 241.4 C329 239.8 335 239.8 337.8 241.2 C338.4 243 338 245.6 336.8 247.4 C333.8 248.6 329.4 248.4 327.2 246.8 C326.2 245.2 326 243 326.6 241.4 Z" fill="#bdbdbd" stroke="#505050" stroke-width="0.55" stroke-linejoin="round"/>
<path d="M326.8 245.4 C330 244.2 334.4 243.2 338 243" fill="none" stroke="#505050" stroke-width="0.55"/>
<path d="M329.75 327.1 H335.45 V340.89 L340.35 343 L332.6 349.9 L324.85 343 L329.75 340.89 Z" fill="#000"/>
<text x="323.2" y="362.9" font-size="10.6" font-weight="bold" text-anchor="start" fill="#111" >10 кН</text>
<text x="364.6" y="378" font-size="5.7" font-weight="bold" text-anchor="middle" fill="#000" >Рис. 5.</text>
<path d="M385.22 265.87 A2.4 2.4 0 0 1 389.38 265.88 L405.52 294.01 A2.4 2.4 0 0 1 403.44 297.60 L371.07 297.60 A2.4 2.4 0 0 1 369.00 294.00 Z" fill="none" stroke="#4a4a4a" stroke-width="3.2" stroke-linejoin="round"/>
<path d="M384.8 273.7 H389.8 Q390.40000000000003 273.7 390.35 274.3 L389.1 287.3 H385.5 L384.25 274.3 Q384.2 273.7 384.8 273.7 Z" fill="#4a4a4a"/>
<circle cx="387.3" cy="291.2" r="2.55" fill="#4a4a4a"/>
<path d="M500.6 69.4 A32.05 32.05 0 0 1 528 70.8" fill="none" stroke="#444" stroke-width="0.5"/>
<path d="M500.60 69.40 L504.09 68.94 L503.40 67.27 Z M528.00 70.80 L525.43 68.40 L524.58 69.98 Z" fill="#444"/>
<path d="M511.32 104.17 C511.64 102.95 512.70 102.66 513.87 102.71 C515.25 102.80 516.31 103.42 517.05 104.36 L519.60 107.44 C520.24 108.14 520.50 108.62 520.50 109.56 L520.50 113.34 C520.50 115.42 519.60 116.84 517.90 117.41 C516.63 117.79 515.04 117.83 513.66 117.64 C511.64 117.36 509.78 116.93 510.00 114.95 Z" fill="none" stroke="#3e3e3e" stroke-width="2.5" stroke-linejoin="round"/>
<path d="M511.32 104.17 C511.64 102.95 512.70 102.66 513.87 102.71 C515.25 102.80 516.31 103.42 517.05 104.36 L519.60 107.44 C520.24 108.14 520.50 108.62 520.50 109.56 L520.50 113.34 C520.50 115.42 519.60 116.84 517.90 117.41 C516.63 117.79 515.04 117.83 513.66 117.64 C511.64 117.36 509.78 116.93 510.00 114.95 Z" fill="none" stroke="#fbfbfb" stroke-width="1.35" stroke-linejoin="round"/>
<path d="M518.12 106.54 L519.71 105.78 L520.98 108.52 L517.96 108.90 Z" fill="#d2d2d2" stroke="#505050" stroke-width="0.5" stroke-linejoin="round"/>
<path d="M517.85 108.99 L521.09 108.71 L521.25 111.83 L518.01 112.02 Z" fill="#f4f4f4" stroke="#505050" stroke-width="0.55" stroke-linejoin="round"/>
<path d="M518.38 112.16 L521.25 111.97 L521.14 114.19 L518.86 114.38 Z" fill="#d2d2d2" stroke="#505050" stroke-width="0.5" stroke-linejoin="round"/>
<path d="M518.43 107.48 L520.45 107.01 M518.70 113.25 L521.19 113.06" stroke="#666" stroke-width="0.4" fill="none"/>
<g transform="translate(485.4 51.6) rotate(58.56)"><path d="M0 -1.4 C9.20 -3.6 22.08 -3.6 36.80 -1.8 L36.80 1.8 C22.08 3.6 9.20 3.6 0 1.4 Z" fill="#c8c8c8" stroke="#444" stroke-width="0.6" stroke-linejoin="round"/><path d="M0 -0.42 C9.20 -1.37 22.08 -1.37 36.80 -0.54 M0 0.42 C9.20 1.37 22.08 1.37 36.80 0.54" fill="none" stroke="#666" stroke-width="0.45"/><path d="M0 0 H36.80" stroke="#f0f0f0" stroke-width="0.6"/></g>
<g transform="translate(504.6 83) rotate(63.90)"><path d="M0 -1.7 C5.46 -2.3 13.09 -2.3 21.82 -1.7 L21.82 1.7 C13.09 2.3 5.46 2.3 0 1.7 Z" fill="#c8c8c8" stroke="#444" stroke-width="0.6" stroke-linejoin="round"/><path d="M0 -0.51 C5.46 -0.87 13.09 -0.87 21.82 -0.51 M0 0.51 C5.46 0.87 13.09 0.87 21.82 0.51" fill="none" stroke="#666" stroke-width="0.45"/><path d="M0 0 H21.82" stroke="#f0f0f0" stroke-width="0.6"/></g>
<g transform="translate(531 69.6) rotate(114.44)"><path d="M0 -1.4 C9.06 -3.6 21.75 -3.6 36.25 -1.8 L36.25 1.8 C21.75 3.6 9.06 3.6 0 1.4 Z" fill="#c8c8c8" stroke="#444" stroke-width="0.6" stroke-linejoin="round"/><path d="M0 -0.42 C9.06 -1.37 21.75 -1.37 36.25 -0.54 M0 0.42 C9.06 1.37 21.75 1.37 36.25 0.54" fill="none" stroke="#666" stroke-width="0.45"/><path d="M0 0 H36.25" stroke="#f0f0f0" stroke-width="0.6"/></g>
<g transform="translate(504.5 82.9) rotate(58)"><ellipse cx="0" cy="0" rx="3.6" ry="2.7" fill="#bdbdbd" stroke="#333" stroke-width="0.7"/><ellipse cx="0.2" cy="0" rx="1.6" ry="1.1" fill="#ededed" stroke="#333" stroke-width="0.5"/></g>
<g transform="translate(480.2 39.8) rotate(62.10)"><path d="M1.0 0.78 C0.2 -1.56 1 -3.59 3 -3.70 L8.46 -3.90 C12.31 -3.90 15.08 -1.95 15.39 0.00 C15.39 1.75 14.16 3.04 12.31 3.04 L2.6 2.89 C1.7 2.73 1.2 1.95 1.0 0.78 Z" fill="#fff" stroke="#3e3e3e" stroke-width="2.3" stroke-linejoin="round"/><path d="M1.0 0.78 C0.2 -1.56 1 -3.59 3 -3.70 L8.46 -3.90 C12.31 -3.90 15.08 -1.95 15.39 0.00 C15.39 1.75 14.16 3.04 12.31 3.04 L2.6 2.89 C1.7 2.73 1.2 1.95 1.0 0.78 Z" fill="none" stroke="#f2f2f2" stroke-width="1.1" stroke-linejoin="round"/><rect x="4.62" y="-4.85" width="5.54" height="1.9" rx="0.7" fill="#8a8a8a" stroke="#333" stroke-width="0.45"/></g>
<g transform="translate(537.4 57.4) rotate(121.46)"><path d="M1.0 -0.76 C0.2 1.52 1 3.50 3 3.61 L8.64 3.80 C12.57 3.80 15.40 1.90 15.71 0.00 C15.71 -1.71 14.45 -2.96 12.57 -2.96 L2.6 -2.81 C1.7 -2.66 1.2 -1.90 1.0 -0.76 Z" fill="#fff" stroke="#3e3e3e" stroke-width="2.3" stroke-linejoin="round"/><path d="M1.0 -0.76 C0.2 1.52 1 3.50 3 3.61 L8.64 3.80 C12.57 3.80 15.40 1.90 15.71 0.00 C15.71 -1.71 14.45 -2.96 12.57 -2.96 L2.6 -2.81 C1.7 -2.66 1.2 -1.90 1.0 -0.76 Z" fill="none" stroke="#f2f2f2" stroke-width="1.1" stroke-linejoin="round"/><rect x="4.71" y="2.85" width="5.66" height="1.9" rx="0.7" fill="#8a8a8a" stroke="#333" stroke-width="0.45"/></g>
<circle cx="482.4" cy="37.3" r="2.4" fill="#c4c4c4" stroke="#333" stroke-width="0.7"/>
<circle cx="482.4" cy="37.3" r="1.2" fill="#3a3a3a"/>
<circle cx="537.6" cy="55.4" r="2.4" fill="#c4c4c4" stroke="#333" stroke-width="0.7"/>
<circle cx="537.6" cy="55.4" r="1.2" fill="#3a3a3a"/>
<path transform="translate(476.2 33.6) rotate(-125.50)" d="M0 -2.3 H11.48 L12.77 -5.3 L17.57 0 L12.77 5.3 L11.48 2.3 H0 Z" fill="#000"/>
<path transform="translate(540.7 52) rotate(-48.42)" d="M0 -2.3 H12.89 L14.18 -5.3 L18.98 0 L14.18 5.3 L12.89 2.3 H0 Z" fill="#000"/>
<text x="476.6" y="18.8" font-size="8.1" font-weight="bold" text-anchor="start" fill="#111" >58%</text>
<text x="543.9" y="33.6" font-size="8.1" font-weight="bold" text-anchor="start" fill="#111" >58%</text>
<text x="506.6" y="64.3" font-size="7.8" font-weight="bold" text-anchor="start" fill="#111" >60°</text>
<path d="M512.55 121 H517.05 V132.05 L520.65 133.6 L514.8 138.4 L508.95 133.6 L512.55 132.05 Z" fill="#000"/>
<text x="519.1" y="150.2" font-size="5.7" font-weight="bold" text-anchor="middle" fill="#000" >Рис. 6.</text>
<path d="M497.7 197.5 A32.92 32.92 0 0 1 536 200.6" fill="none" stroke="#444" stroke-width="0.5"/>
<path d="M497.70 197.50 L501.08 196.52 L500.15 194.97 Z M536.00 200.60 L533.99 197.71 L532.83 199.09 Z" fill="#444"/>
<path d="M516.28 229.36 C516.48 227.57 517.27 227.44 518.26 227.44 L520.44 227.44 C521.63 227.44 522.22 228.34 522.62 230.13 L523.51 234.74 C523.80 237.55 523.21 238.70 521.43 238.70 L517.07 238.70 C515.49 238.70 515.09 237.81 515.09 236.02 Z" fill="#fff" stroke="#505050" stroke-width="2.2" stroke-linejoin="round"/>
<path d="M516.28 229.36 C516.48 227.57 517.27 227.44 518.26 227.44 L520.44 227.44 C521.63 227.44 522.22 228.34 522.62 230.13 L523.51 234.74 C523.80 237.55 523.21 238.70 521.43 238.70 L517.07 238.70 C515.49 238.70 515.09 237.81 515.09 236.02 Z" fill="#fff" stroke="#f4f4f4" stroke-width="1.2" stroke-linejoin="round"/>
<path d="M521.63 229.62 L523.80 230.64 L524.40 236.27 L522.42 236.53 Z" fill="#a8a8a8" stroke="#505050" stroke-width="0.5"/>
<g transform="translate(482.8 187.4) rotate(45.49)"><path d="M0 -1.4 C8.27 -3.4 19.86 -3.4 33.09 -1.8 L33.09 1.8 C19.86 3.4 8.27 3.4 0 1.4 Z" fill="#c8c8c8" stroke="#444" stroke-width="0.6" stroke-linejoin="round"/><path d="M0 -0.42 C8.27 -1.29 19.86 -1.29 33.09 -0.54 M0 0.42 C8.27 1.29 19.86 1.29 33.09 0.54" fill="none" stroke="#666" stroke-width="0.45"/><path d="M0 0 H33.09" stroke="#f0f0f0" stroke-width="0.6"/></g>
<g transform="translate(506 211) rotate(51.34)"><path d="M0 -1.6 C4.80 -2.1 11.53 -2.1 19.21 -1.7 L19.21 1.7 C11.53 2.1 4.80 2.1 0 1.6 Z" fill="#c8c8c8" stroke="#444" stroke-width="0.6" stroke-linejoin="round"/><path d="M0 -0.48 C4.80 -0.80 11.53 -0.80 19.21 -0.51 M0 0.48 C4.80 0.80 11.53 0.80 19.21 0.51" fill="none" stroke="#666" stroke-width="0.45"/><path d="M0 0 H19.21" stroke="#f0f0f0" stroke-width="0.6"/></g>
<g transform="translate(542.6 201) rotate(132.11)"><path d="M0 -1.4 C8.43 -3.4 20.22 -3.4 33.70 -1.8 L33.70 1.8 C20.22 3.4 8.43 3.4 0 1.4 Z" fill="#c8c8c8" stroke="#444" stroke-width="0.6" stroke-linejoin="round"/><path d="M0 -0.42 C8.43 -1.29 20.22 -1.29 33.70 -0.54 M0 0.42 C8.43 1.29 20.22 1.29 33.70 0.54" fill="none" stroke="#666" stroke-width="0.45"/><path d="M0 0 H33.70" stroke="#f0f0f0" stroke-width="0.6"/></g>
<g transform="translate(506 211) rotate(47)"><ellipse cx="0" cy="0" rx="3.6" ry="2.7" fill="#bdbdbd" stroke="#333" stroke-width="0.7"/><ellipse cx="0.2" cy="0" rx="1.6" ry="1.1" fill="#ededed" stroke="#333" stroke-width="0.5"/></g>
<g transform="translate(474.8 179.8) rotate(42.56)"><path d="M1.0 0.70 C0.2 -1.40 1 -3.22 3 -3.32 L7.32 -3.50 C10.64 -3.50 13.04 -1.75 13.31 0.00 C13.31 1.57 12.24 2.73 10.64 2.73 L2.6 2.59 C1.7 2.45 1.2 1.75 1.0 0.70 Z" fill="#fff" stroke="#3e3e3e" stroke-width="2.3" stroke-linejoin="round"/><path d="M1.0 0.70 C0.2 -1.40 1 -3.22 3 -3.32 L7.32 -3.50 C10.64 -3.50 13.04 -1.75 13.31 0.00 C13.31 1.57 12.24 2.73 10.64 2.73 L2.6 2.59 C1.7 2.45 1.2 1.75 1.0 0.70 Z" fill="none" stroke="#f2f2f2" stroke-width="1.1" stroke-linejoin="round"/><rect x="3.99" y="-4.45" width="4.79" height="1.9" rx="0.7" fill="#8a8a8a" stroke="#333" stroke-width="0.45"/></g>
<g transform="translate(551.4 192.4) rotate(136.10)"><path d="M1.0 -0.70 C0.2 1.40 1 3.22 3 3.32 L8.09 3.50 C11.77 3.50 14.42 1.75 14.71 0.00 C14.71 -1.57 13.53 -2.73 11.77 -2.73 L2.6 -2.59 C1.7 -2.45 1.2 -1.75 1.0 -0.70 Z" fill="#fff" stroke="#3e3e3e" stroke-width="2.3" stroke-linejoin="round"/><path d="M1.0 -0.70 C0.2 1.40 1 3.22 3 3.32 L8.09 3.50 C11.77 3.50 14.42 1.75 14.71 0.00 C14.71 -1.57 13.53 -2.73 11.77 -2.73 L2.6 -2.59 C1.7 -2.45 1.2 -1.75 1.0 -0.70 Z" fill="none" stroke="#f2f2f2" stroke-width="1.1" stroke-linejoin="round"/><rect x="4.41" y="2.55" width="5.30" height="1.9" rx="0.7" fill="#8a8a8a" stroke="#333" stroke-width="0.45"/></g>
<circle cx="474.8" cy="177.6" r="2.4" fill="#c4c4c4" stroke="#333" stroke-width="0.7"/>
<circle cx="474.8" cy="177.6" r="1.2" fill="#3a3a3a"/>
<circle cx="552.6" cy="190.8" r="2.4" fill="#c4c4c4" stroke="#333" stroke-width="0.7"/>
<circle cx="552.6" cy="190.8" r="1.2" fill="#3a3a3a"/>
<path transform="translate(469.9 173.8) rotate(-135.27)" d="M0 -2.1 H9.50 L10.66 -4.8 L15.06 0 L10.66 4.8 L9.50 2.1 H0 Z" fill="#000"/>
<path transform="translate(555.8 187.6) rotate(-46.55)" d="M0 -2.05 H10.12 L11.30 -4.8 L15.70 0 L11.30 4.8 L10.12 2.05 H0 Z" fill="#000"/>
<text x="471.6" y="164.6" font-size="7.6" font-weight="bold" text-anchor="start" fill="#111" >71%</text>
<text x="554.8" y="170.9" font-size="7.6" font-weight="bold" text-anchor="start" fill="#111" >71%</text>
<text x="510.7" y="190.2" font-size="7.0" font-weight="bold" text-anchor="start" fill="#111" >90°</text>
<path d="M516.35 241.7 H520.25 V251.39 L523.30 252.7 L518.3 257.1 L513.30 252.7 L516.35 251.39 Z" fill="#000"/>
<text x="519" y="268.9" font-size="5.7" font-weight="bold" text-anchor="middle" fill="#000" >Рис. 7.</text>
<path d="M560.09 208.64 A2.2 2.2 0 0 1 563.91 208.64 L578.40 233.85 A2.2 2.2 0 0 1 576.49 237.15 L547.51 237.15 A2.2 2.2 0 0 1 545.60 233.85 Z" fill="none" stroke="#4a4a4a" stroke-width="2.9" stroke-linejoin="round"/>
<path d="M559.5 215.7 H564.5 Q565.1 215.7 565.05 216.3 L563.8 227.9 H560.2 L558.95 216.3 Q558.9 215.7 559.5 215.7 Z" fill="#4a4a4a"/>
<circle cx="562" cy="231.4" r="2.55" fill="#4a4a4a"/>
<path d="M498.8 301.2 A30.87 30.87 0 0 1 549.4 304.6" fill="none" stroke="#444" stroke-width="0.5"/>
<path d="M498.80 301.20 L501.63 299.11 L500.22 297.98 Z M549.40 304.60 L548.42 301.22 L546.88 302.15 Z" fill="#444"/>
<path d="M522.80 325.48 C523.00 323.60 523.80 323.47 524.80 323.47 L527.00 323.47 C528.20 323.47 528.80 324.41 529.20 326.28 L530.10 331.11 C530.40 334.06 529.80 335.26 528.00 335.26 L523.60 335.26 C522.00 335.26 521.60 334.32 521.60 332.45 Z" fill="#fff" stroke="#505050" stroke-width="2.2" stroke-linejoin="round"/>
<path d="M522.80 325.48 C523.00 323.60 523.80 323.47 524.80 323.47 L527.00 323.47 C528.20 323.47 528.80 324.41 529.20 326.28 L530.10 331.11 C530.40 334.06 529.80 335.26 528.00 335.26 L523.60 335.26 C522.00 335.26 521.60 334.32 521.60 332.45 Z" fill="#fff" stroke="#f4f4f4" stroke-width="1.2" stroke-linejoin="round"/>
<path d="M528.20 325.75 L530.40 326.82 L531.00 332.72 L529.00 332.98 Z" fill="#a8a8a8" stroke="#505050" stroke-width="0.5"/>
<g transform="translate(483.4 297) rotate(30.51)"><path d="M0 -1.4 C7.63 -3.4 18.32 -3.4 30.53 -1.8 L30.53 1.8 C18.32 3.4 7.63 3.4 0 1.4 Z" fill="#c8c8c8" stroke="#444" stroke-width="0.6" stroke-linejoin="round"/><path d="M0 -0.42 C7.63 -1.29 18.32 -1.29 30.53 -0.54 M0 0.42 C7.63 1.29 18.32 1.29 30.53 0.54" fill="none" stroke="#666" stroke-width="0.45"/><path d="M0 0 H30.53" stroke="#f0f0f0" stroke-width="0.6"/></g>
<g transform="translate(509.7 312.2) rotate(35.73)"><path d="M0 -1.6 C4.28 -2.1 10.27 -2.1 17.12 -1.7 L17.12 1.7 C10.27 2.1 4.28 2.1 0 1.6 Z" fill="#c8c8c8" stroke="#444" stroke-width="0.6" stroke-linejoin="round"/><path d="M0 -0.48 C4.28 -0.80 10.27 -0.80 17.12 -0.51 M0 0.48 C4.28 0.80 10.27 0.80 17.12 0.51" fill="none" stroke="#666" stroke-width="0.45"/><path d="M0 0 H17.12" stroke="#f0f0f0" stroke-width="0.6"/></g>
<g transform="translate(553 307.4) rotate(149.69)"><path d="M0 -1.4 C7.53 -3.4 18.07 -3.4 30.12 -1.8 L30.12 1.8 C18.07 3.4 7.53 3.4 0 1.4 Z" fill="#c8c8c8" stroke="#444" stroke-width="0.6" stroke-linejoin="round"/><path d="M0 -0.42 C7.53 -1.29 18.07 -1.29 30.12 -0.54 M0 0.42 C7.53 1.29 18.07 1.29 30.12 0.54" fill="none" stroke="#666" stroke-width="0.45"/><path d="M0 0 H30.12" stroke="#f0f0f0" stroke-width="0.6"/></g>
<g transform="translate(509.7 312.5) rotate(32)"><ellipse cx="0" cy="0" rx="3.6" ry="2.7" fill="#bdbdbd" stroke="#333" stroke-width="0.7"/><ellipse cx="0.2" cy="0" rx="1.6" ry="1.1" fill="#ededed" stroke="#333" stroke-width="0.5"/></g>
<g transform="translate(472.6 290.4) rotate(33.91)"><path d="M1.0 0.70 C0.2 -1.40 1 -3.22 3 -3.32 L8.08 -3.50 C11.76 -3.50 14.41 -1.75 14.70 0.00 C14.70 1.57 13.52 2.73 11.76 2.73 L2.6 2.59 C1.7 2.45 1.2 1.75 1.0 0.70 Z" fill="#fff" stroke="#3e3e3e" stroke-width="2.3" stroke-linejoin="round"/><path d="M1.0 0.70 C0.2 -1.40 1 -3.22 3 -3.32 L8.08 -3.50 C11.76 -3.50 14.41 -1.75 14.70 0.00 C14.70 1.57 13.52 2.73 11.76 2.73 L2.6 2.59 C1.7 2.45 1.2 1.75 1.0 0.70 Z" fill="none" stroke="#f2f2f2" stroke-width="1.1" stroke-linejoin="round"/><rect x="4.41" y="-4.45" width="5.29" height="1.9" rx="0.7" fill="#8a8a8a" stroke="#333" stroke-width="0.45"/></g>
<g transform="translate(564.6 300) rotate(149.04)"><path d="M1.0 -0.70 C0.2 1.40 1 3.22 3 3.32 L8.34 3.50 C12.13 3.50 14.86 1.75 15.16 0.00 C15.16 -1.57 13.95 -2.73 12.13 -2.73 L2.6 -2.59 C1.7 -2.45 1.2 -1.75 1.0 -0.70 Z" fill="#fff" stroke="#3e3e3e" stroke-width="2.3" stroke-linejoin="round"/><path d="M1.0 -0.70 C0.2 1.40 1 3.22 3 3.32 L8.34 3.50 C12.13 3.50 14.86 1.75 15.16 0.00 C15.16 -1.57 13.95 -2.73 12.13 -2.73 L2.6 -2.59 C1.7 -2.45 1.2 -1.75 1.0 -0.70 Z" fill="none" stroke="#f2f2f2" stroke-width="1.1" stroke-linejoin="round"/><rect x="4.55" y="2.55" width="5.46" height="1.9" rx="0.7" fill="#8a8a8a" stroke="#333" stroke-width="0.45"/></g>
<circle cx="472.9" cy="289.1" r="2.4" fill="#c4c4c4" stroke="#333" stroke-width="0.7"/>
<circle cx="472.9" cy="289.1" r="1.2" fill="#3a3a3a"/>
<circle cx="564.3" cy="298.3" r="2.4" fill="#c4c4c4" stroke="#333" stroke-width="0.7"/>
<circle cx="564.3" cy="298.3" r="1.2" fill="#3a3a3a"/>
<path transform="translate(468.1 286.5) rotate(-152.19)" d="M0 -1.95 H9.02 L10.16 -4.6 L14.36 0 L10.16 4.6 L9.02 1.95 H0 Z" fill="#000"/>
<path transform="translate(568.6 297.6) rotate(-33.15)" d="M0 -1.95 H9.51 L10.61 -4.5 L14.81 0 L10.61 4.5 L9.51 1.95 H0 Z" fill="#000"/>
<text x="469.7" y="277.3" font-size="7.0" font-weight="bold" text-anchor="start" fill="#111" >100%</text>
<text x="564.9" y="283.2" font-size="7.1" font-weight="bold" text-anchor="start" fill="#111" >100%</text>
<text x="519.2" y="286.7" font-size="6.9" font-weight="bold" text-anchor="start" fill="#111" >120°</text>
<path d="M523.45 338.9 H527.55 V348.67 L530.40 349.9 L525.5 354 L520.60 349.9 L523.45 348.67 Z" fill="#000"/>
<text x="519.0" y="365.8" font-size="5.7" font-weight="bold" text-anchor="middle" fill="#000" >Рис. 8.</text>
<path d="M565.07 320.40 A2.2 2.2 0 0 1 568.90 320.42 L582.56 344.88 A2.2 2.2 0 0 1 580.64 348.15 L553.00 348.15 A2.2 2.2 0 0 1 551.09 344.86 Z" fill="none" stroke="#4a4a4a" stroke-width="2.9" stroke-linejoin="round"/>
<path d="M564.5 327.2 H569.5 Q570.1 327.2 570.05 327.8 L568.8 339.1 H565.2 L563.95 327.8 Q563.9 327.2 564.5 327.2 Z" fill="#4a4a4a"/>
<circle cx="567" cy="342.6" r="2.55" fill="#4a4a4a"/>
</svg>
<div class="j" style="left:47.6px;top:49.00px;width:88.2px">Пользователь несет ответственность</div>
<div class="j" style="left:47.6px;top:54.77px;width:88.2px">за свои действия и решения. Перед</div>
<div class="j" style="left:47.6px;top:60.54px;width:88.2px">использованием этого изделия</div>
<div class="j" style="left:47.6px;top:66.31px;width:88.2px">необходимо прочитать и понять все</div>
<div class="j" style="left:47.6px;top:72.08px;width:88.2px">инструкции и предупреждения,</div>
<div class="j" style="left:47.6px;top:77.85px;width:88.2px">ознакомиться с надлежащим</div>
<div class="j" style="left:11.8px;top:83.62px;width:121px">использованием, возможностями и ограничениями.</div>
<div class="j" style="left:11.8px;top:89.39px;width:124px">Мы рекомендуем, чтобы каждый пользователь</div>
<div class="j" style="left:11.8px;top:95.16px;width:124px">получил надлежащую подготовку по правильному</div>
<div class="l" style="left:11.8px;top:100.93px;width:124px">использованию изделия.</div>
</body></html>
